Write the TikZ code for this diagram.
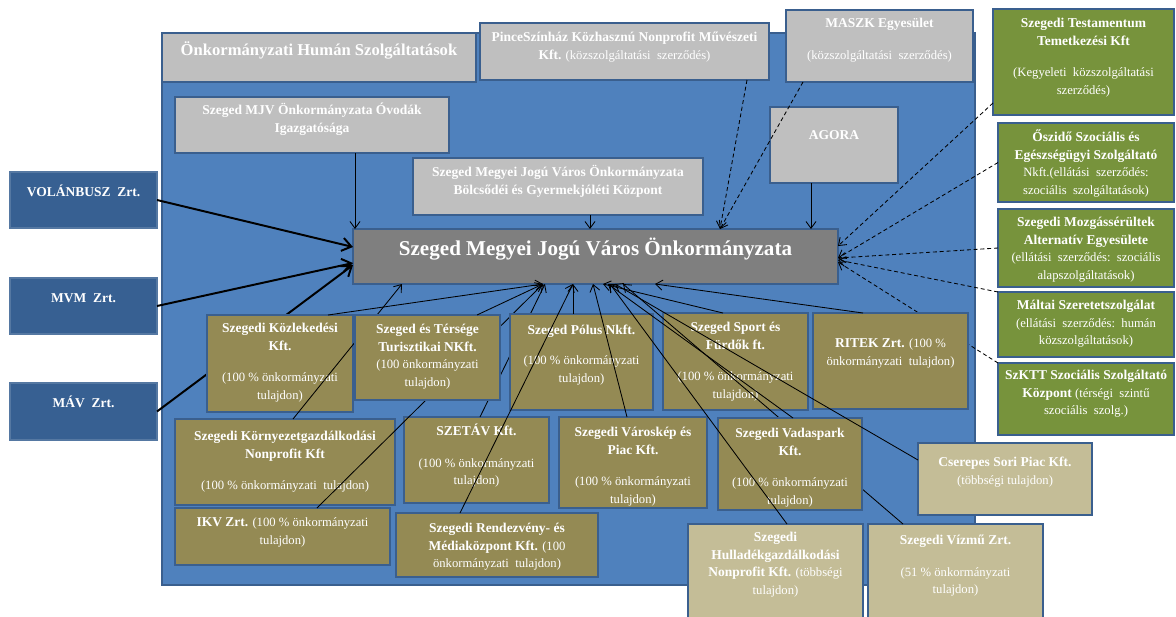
\documentclass[tikz,border=0pt]{standalone}
\usepackage{fontspec}
\setmainfont{Liberation Serif}
\usepackage{tikz}
\usetikzlibrary{arrows.meta, calc}

\definecolor{panelblue}{HTML}{4F81BD}
\definecolor{edgeblue}{HTML}{3A5F8E}
\definecolor{boxgrey}{HTML}{BFBFBF}
\definecolor{maingrey}{HTML}{7F7F7F}
\definecolor{leftblue}{HTML}{376092}
\definecolor{olivefill}{HTML}{948A54}
\definecolor{greenfill}{HTML}{77933C}
\definecolor{tanfill}{HTML}{C4BD97}

\newlength{\unitpx}
\setlength{\unitpx}{0.25mm}
% width, height, first baseline (all in px), text
\newcommand{\boxtext}[4]{\parbox[c][#2\unitpx][t]{#1\unitpx}{\centering\rule{0pt}{#3\unitpx}#4}}
\newcommand{\hd}[1]{{\fontsize{9.6}{12.5}\selectfont\bfseries #1}}

\begin{document}
\begin{tikzpicture}[
  x=0.25mm, y=-0.25mm,
  font=\fontsize{9}{12.5}\selectfont,
  panel/.style={fill=panelblue, draw=edgeblue, line width=1.8pt},
  box/.style={anchor=north west, inner sep=0pt, outer sep=0pt, draw=edgeblue, line width=1.8pt, text=white},
  greybox/.style={box, fill=boxgrey},
  mainbox/.style={box, fill=maingrey},
  leftbox/.style={box, fill=leftblue, draw=leftblue!85!white},
  greenbox/.style={box, fill=greenfill},
  olivebox/.style={box, fill=olivefill},
  tanbox/.style={box, fill=tanfill},
  conn/.style={draw=black, line width=0.6pt, -{Straight Barb[length=1.7mm, width=2.5mm]}},
  dashconn/.style={conn, dash pattern=on 1mm off 0.7mm},
  thickconn/.style={draw=black, line width=1.4pt, -{Straight Barb[length=2.3mm, width=3.3mm]}}
]
\useasboundingbox (0,0) rectangle (1176,616);

% ---- panel ----
\filldraw[panel] (162,33) rectangle (975,585);

% ---- upper boxes ----
\node[greybox] (human) at (162,33)
  {\boxtext{314}{49}{22}{\fontsize{11.8}{14}\selectfont\bfseries Önkormányzati Humán Szolgáltatások}};
\node[greybox] (pince) at (480,23)
  {\boxtext{289}{57}{18.5}{\hd{PinceSzínház Közhasznú Nonprofit Művészeti}\\\hd{Kft.} (közszolgáltatási\ \ szerződés)}};
\node[greybox] (maszk) at (786,10)
  {\boxtext{187}{72}{17.5}{\hd{MASZK Egyesület}\\[10pt](közszolgáltatási\ \ szerződés)}};
\node[greybox] (ovoda) at (175,97)
  {\boxtext{274}{56}{17.5}{\hd{Szeged MJV Önkormányzata Óvodák}\\\hd{Igazgatósága}}};
\node[greybox] (bolcs) at (413,158)
  {\boxtext{290}{57}{18.5}{\hd{Szeged Megyei Jogú Város Önkormányzata}\\\hd{Bölcsődéi és Gyermekjóléti Központ}}};
\node[greybox] (agora) at (770,107)
  {\boxtext{128}{76}{32.5}{\hd{AGORA}}};
\node[mainbox] (main) at (353,229)
  {\boxtext{485}{55}{26}{\fontsize{15}{16}\selectfont\bfseries Szeged Megyei Jogú Város Önkormányzata}};

% ---- left boxes ----
\node[leftbox] (volan) at (10,172) {\boxtext{147}{56}{24.5}{\hd{VOLÁNBUSZ\ \ Zrt.}}};
\node[leftbox] (mvm) at (10,278) {\boxtext{147}{56}{24.5}{\hd{MVM\ \ Zrt.}}};
\node[leftbox] (mav) at (10,383) {\boxtext{147}{57}{24.5}{\hd{MÁV\ \ Zrt.}}};

% ---- right boxes ----
\node[greenbox] (testa) at (993,9)
  {\boxtext{181}{106}{18.5}{\hd{Szegedi Testamentum}\\\hd{Temetkezési Kft}\\[10pt](Kegyeleti\ \ közszolgáltatási\\szerződés)}};
\node[greenbox] (oszido) at (998,123)
  {\boxtext{176}{79}{18.5}{\hd{Őszidő Szociális és}\\\hd{Egészségügyi Szolgáltató}\\Nkft.(ellátási\ \ szerződés:\\szociális\ \ szolgáltatások)}};
\node[greenbox] (mozgas) at (998,209)
  {\boxtext{176}{78}{17.5}{\hd{Szegedi Mozgássérültek}\\\hd{Alternatív Egyesülete}\\(ellátási\ \ szerződés:\ \ szociális\\alapszolgáltatások)}};
\node[greenbox] (maltai) at (998,292)
  {\boxtext{176}{65}{17.5}{\hd{Máltai Szeretetszolgálat}\\(ellátási\ \ szerződés:\ \ humán\\közszolgáltatások)}};
\node[greenbox] (szktt) at (998,363)
  {\boxtext{176}{72}{16.5}{\hd{SzKTT Szociális Szolgáltató}\\\hd{Központ} (térségi\ \ szintű\\szociális\ \ szolg.)}};

% ---- connectors into the top of the main box ----
\draw[conn] ($(ovoda.south west)+(180,0)$) -- ($(main.north west)+(2,0)$);
\draw[conn] ($(bolcs.south west)+(177,0)$) -- ($(main.north west)+(237,0)$);
\draw[conn] ($(agora.south west)+(41,0)$) -- ($(main.north west)+(458,0)$);
\draw[dashconn] ($(pince.south west)+(267,0)$) -- ($(main.north west)+(367,0)$);
\draw[dashconn] ($(maszk.south west)+(17,0)$) -- ($(main.north west)+(367,0)$);
\draw[dashconn] ($(testa.south west)+(0,-12)$) -- ($(main.north east)+(0,17)$);
\draw[dashconn] (oszido.west) -- ($(main.north east)+(0,29)$);
\draw[dashconn] (mozgas.west) -- ($(main.north east)+(0,29)$);
\draw[dashconn] (maltai.north west) -- ($(main.north east)+(0,31)$);
\draw[dashconn] (szktt.north west) -- ($(main.north east)+(0,33)$);
\draw[thickconn] (volan.east) -- ($(main.north west)+(0,18)$);
\draw[thickconn] (mvm.east) -- ($(main.north west)+(0,34)$);
\draw[thickconn] (mav.east) -- ($(main.north west)+(0,36)$);

% ---- owned companies, first layer ----
\node[olivebox] (kozl) at (207,315)
  {\boxtext{146}{97}{17.5}{\hd{Szegedi Közlekedési}\\\hd{Kft.}\\[10pt](100 \% önkormányzati\\tulajdon)}};
\node[olivebox] (kornyezet) at (175,419)
  {\boxtext{220}{86}{21.5}{\hd{Szegedi Környezetgazdálkodási}\\\hd{Nonprofit Kft}\\[10pt](100 \% önkormányzati\ \ tulajdon)}};
\node[olivebox] (ikv) at (175,508)
  {\boxtext{215}{57}{18.5}{\hd{IKV Zrt.} (100 \% önkormányzati\\tulajdon)}};
\node[olivebox] (szetav) at (404,417)
  {\boxtext{145}{86}{18.5}{\hd{SZETÁV Kft.}\\[10pt](100 \% önkormányzati\\tulajdon)}};

\draw[conn] ($(kornyezet.north west)+(118,0)$) -- ($(main.south west)+(49,0)$);
\draw[conn] ($(ikv.north west)+(142,0)$) -- ($(main.south west)+(190,0)$);
\draw[conn] ($(szetav.north west)+(76,0)$) -- ($(main.south west)+(192,0)$);

\node[olivebox] (turisz) at (355,315)
  {\boxtext{145}{85}{18.5}{\hd{Szeged és Térsége}\\\hd{Turisztikai NKft.}\\(100 önkormányzati\\tulajdon)}};
\node[olivebox] (polus) at (510,314)
  {\boxtext{143}{96}{20.5}{\hd{Szeged Pólus Nkft.}\\[9pt](100 \% önkormányzati\\tulajdon)}};
\node[olivebox] (sport) at (663,313)
  {\boxtext{145}{97}{18.5}{\hd{Szeged Sport és}\\\hd{Fürdők ft.}\\[10pt](100 \% önkormányzati\\tulajdon)}};
\node[tanbox] (vizmu) at (868,524)
  {\boxtext{175}{100}{20.5}{\hd{Szegedi Vízmű Zrt.}\\[10pt](51 \% önkormányzati\\tulajdon)}};

\draw[conn] ($(vizmu.north west)+(35,0)$) -- ($(main.south west)+(270,0)$);

% ---- owned companies, second layer ----
\node[olivebox] (ritek) at (813,313)
  {\boxtext{155}{96}{34.5}{\hd{RITEK Zrt.} (100 \%\\önkormányzati\ \ tulajdon)}};
\node[olivebox] (varoskep) at (559,417)
  {\boxtext{148}{91}{19.5}{\hd{Szegedi Városkép és}\\\hd{Piac Kft.}\\[10pt](100 \% önkormányzati\\tulajdon)}};
\node[olivebox] (rendez) at (396,513)
  {\boxtext{202}{64}{19.5}{\hd{Szegedi Rendezvény- és}\\\hd{Médiaközpont Kft.} (100\\önkormányzati\ \ tulajdon)}};
\node[olivebox] (vadas) at (718,418)
  {\boxtext{144}{92}{19.5}{\hd{Szegedi Vadaspark}\\\hd{Kft.}\\[10pt](100 \% önkormányzati\\tulajdon)}};
\node[tanbox] (cserepes) at (918,443)
  {\boxtext{174}{72}{23.5}{\hd{Cserepes Sori Piac Kft.}\\(többségi tulajdon)}};
\node[tanbox] (hullad) at (688,524)
  {\boxtext{175}{100}{17.5}{\hd{Szegedi}\\\hd{Hulladékgazdálkodási}\\\hd{Nonprofit Kft.} (többségi\\tulajdon)}};

\draw[conn] ($(kozl.north west)+(121,0)$) -- ($(main.south west)+(190,0)$);
\draw[conn] ($(turisz.north west)+(122,0)$) -- ($(main.south west)+(190,0)$);
\draw[conn] ($(rendez.north west)+(64,0)$) -- ($(main.south west)+(220,0)$);
\draw[conn] ($(polus.north west)+(63,0)$) -- ($(main.south west)+(220,0)$);
\draw[conn] ($(varoskep.north west)+(68,0)$) -- ($(main.south west)+(240,0)$);
\draw[conn] ($(sport.north west)+(60,0)$) -- ($(main.south west)+(250,0)$);
\draw[conn] ($(vadas.north west)+(75,0)$) -- ($(main.south west)+(255,0)$);
\draw[conn] ($(hullad.north west)+(99,0)$) -- ($(main.south west)+(257,0)$);
\draw[conn] ($(cserepes.north west)+(0,17)$) -- ($(main.south west)+(262,0)$);
\draw[conn] ($(ritek.north west)+(50,0)$) -- ($(main.south west)+(302,0)$);

\end{tikzpicture}
\end{document}
